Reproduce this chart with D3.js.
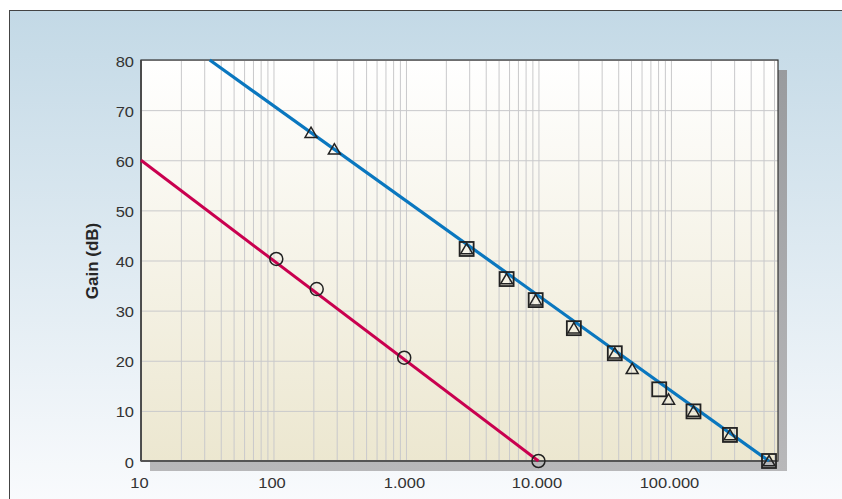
<!DOCTYPE html>
<html>
<head>
<meta charset="utf-8">
<script src="https://cdn.jsdelivr.net/npm/d3@7"></script>
<style>
  body { margin: 0; background: #fff; }
  svg { display: block; font-family: "Liberation Sans", Arial, sans-serif; }
</style>
</head>
<body>
<svg id="chart"></svg>
<script>
// values
let xTicks = [10, 100, 1000, 10000, 100000]
let yTicks = [0, 10, 20, 30, 40, 50, 60, 70, 80]

let redLineFreq = [10, 10000]
let redLineGain = [60, 0]
let circleFreq = [105, 212, 970, 10000]
let circleGain = [40.3, 34.3, 20.6, 0]

let blueLineFreq = [33, 550000]
let blueLineGain = [80, 0]
let triangleFreq = [192, 288, 2870, 5750, 9530, 18500, 37700, 51000, 96000, 148000, 279000, 550000]
let triangleGain = [65.5, 62.2, 42.3, 36.3, 32.1, 26.5, 21.5, 18.4, 12.3, 9.9, 5.2, 0]
let squareFreq = [2870, 5750, 9530, 18500, 37700, 81600, 148000, 279000, 550000]
let squareGain = [42.3, 36.3, 32.1, 26.5, 21.5, 14.3, 9.9, 5.2, 0]

let width = 842
let height = 499
let pLeft = 141, pRight = 778, pTop = 60, pBottom = 461

let svg = d3.select('#chart').attr('width', width).attr('height', height)
let defs = svg.append('defs')

let bgGrad = defs.append('linearGradient').attr('id', 'bg').attr('x1', 0).attr('y1', 0).attr('x2', 0).attr('y2', 1)
bgGrad.append('stop').attr('offset', '0%').attr('stop-color', '#c3d9e6')
bgGrad.append('stop').attr('offset', '100%').attr('stop-color', '#fafbfd')

let plotGrad = defs.append('linearGradient').attr('id', 'plotbg').attr('x1', 0).attr('y1', 0).attr('x2', 0).attr('y2', 1)
plotGrad.append('stop').attr('offset', '0%').attr('stop-color', '#ffffff')
plotGrad.append('stop').attr('offset', '100%').attr('stop-color', '#ece7d0')

let shadowGrad = defs.append('linearGradient').attr('id', 'shadow').attr('x1', 0).attr('y1', 0).attr('x2', 0).attr('y2', 1)
shadowGrad.append('stop').attr('offset', '0%').attr('stop-color', '#999b9e')
shadowGrad.append('stop').attr('offset', '100%').attr('stop-color', '#b8b8ba')

// panel
svg.append('rect').attr('x', 0).attr('y', 0).attr('width', width).attr('height', height).attr('fill', '#fff')
svg.append('rect')
    .attr('x', 9.5).attr('y', 10.5)
    .attr('width', 840).attr('height', 500)
    .attr('fill', 'url(#bg)')
    .attr('stroke', '#444').attr('stroke-width', 1)

let xScale = d3.scaleLog().domain([10, 643000]).range([pLeft, pRight])
let yScale = d3.scaleLinear().domain([0, 80]).range([pBottom, pTop])

// shadow + plot background
svg.append('rect')
    .attr('x', pLeft + 9).attr('y', pTop + 10)
    .attr('width', pRight - pLeft).attr('height', pBottom - pTop)
    .attr('fill', 'url(#shadow)')
svg.append('rect')
    .attr('x', pLeft).attr('y', pTop)
    .attr('width', pRight - pLeft).attr('height', pBottom - pTop)
    .attr('fill', 'url(#plotbg)')

// grid
let xGrid = d3.axisBottom(xScale).tickSize(-(pBottom - pTop)).tickFormat('')
svg.append('g')
    .attr('transform', 'translate(0,' + pBottom + ')')
    .call(xGrid)
    .call(g => g.select('.domain').remove())
    .selectAll('line').attr('stroke', '#c9c9cb').attr('stroke-width', 1)

let yGrid = d3.axisLeft(yScale).tickValues(yTicks).tickSize(-(pRight - pLeft)).tickFormat('')
svg.append('g')
    .attr('transform', 'translate(' + pLeft + ',0)')
    .call(yGrid)
    .call(g => g.select('.domain').remove())
    .selectAll('line').attr('stroke', '#c9c9cb').attr('stroke-width', 1)

// frame
svg.append('rect')
    .attr('x', pLeft).attr('y', pTop)
    .attr('width', pRight - pLeft).attr('height', pBottom - pTop)
    .attr('fill', 'none').attr('stroke', '#333').attr('stroke-width', 1.2)
svg.append('line').attr('x1', pLeft).attr('x2', pLeft).attr('y1', pTop).attr('y2', pBottom)
    .attr('stroke', '#444').attr('stroke-width', 1.6)
svg.append('line').attr('x1', pLeft).attr('x2', pRight).attr('y1', pBottom).attr('y2', pBottom)
    .attr('stroke', '#555').attr('stroke-width', 2)

// axis labels
let locale = d3.formatLocale({ decimal: ',', thousands: '.', grouping: [3], currency: ['', ''] })
let fmt = locale.format(',')

let xAxis = d3.axisBottom(xScale).tickValues(xTicks).tickFormat(fmt).tickSize(0)
svg.append('g')
    .attr('transform', 'translate(-2,' + pBottom + ')')
    .call(xAxis)
    .call(g => g.select('.domain').remove())
    .selectAll('text')
    .attr('y', 16).attr('dy', '0.71em')
    .attr('font-size', 15).attr('fill', '#333')
    .attr('font-family', '"Liberation Sans", Arial, sans-serif')
    .attr('transform', 'scale(1.1,1)')
    .attr('x', 0)

let yAxis = d3.axisLeft(yScale).tickValues(yTicks).tickSize(0)
svg.append('g')
    .attr('transform', 'translate(' + pLeft + ',0)')
    .call(yAxis)
    .call(g => g.select('.domain').remove())
    .selectAll('text')
    .attr('x', -7 / 1.1).attr('dy', '0.4em')
    .attr('font-size', 15).attr('fill', '#333')
    .attr('font-family', '"Liberation Sans", Arial, sans-serif')
    .attr('transform', 'scale(1.1,1)')

svg.append('text')
    .attr('transform', 'translate(98,261) rotate(-90)')
    .attr('text-anchor', 'middle')
    .attr('font-size', 17).attr('font-weight', 'bold').attr('fill', '#262626')
    .text('Gain (dB)')

// lines
let line = d3.line().x(d => xScale(d[0])).y(d => yScale(d[1]))

svg.append('path')
    .datum(redLineFreq.map((f, i) => [f, redLineGain[i]]))
    .attr('d', line)
    .attr('fill', 'none').attr('stroke', '#c9004f').attr('stroke-width', 3)
svg.append('path')
    .datum(blueLineFreq.map((f, i) => [f, blueLineGain[i]]))
    .attr('d', line)
    .attr('fill', 'none').attr('stroke', '#0a77bf').attr('stroke-width', 3.2)

// markers
svg.append('g').selectAll('circle')
    .data(circleFreq.map((f, i) => [f, circleGain[i]]))
    .enter()
    .append('circle')
    .attr('cx', d => xScale(d[0]))
    .attr('cy', d => yScale(d[1]))
    .attr('r', 6.5)
    .attr('fill', 'none').attr('stroke', '#222').attr('stroke-width', 1.5)

svg.append('g').selectAll('rect')
    .data(squareFreq.map((f, i) => [f, squareGain[i]]))
    .enter()
    .append('rect')
    .attr('x', d => xScale(d[0]) - 7)
    .attr('y', d => yScale(d[1]) - 7)
    .attr('width', 14).attr('height', 14)
    .attr('fill', 'none').attr('stroke', '#222').attr('stroke-width', 1.8)

svg.append('g').selectAll('path')
    .data(triangleFreq.map((f, i) => [f, triangleGain[i]]))
    .enter()
    .append('path')
    .attr('d', 'M0,-5.5L6,4.8L-6,4.8Z')
    .attr('transform', d => 'translate(' + xScale(d[0]) + ',' + yScale(d[1]) + ')')
    .attr('fill', 'none').attr('stroke', '#222').attr('stroke-width', 1.5)
</script>
</body>
</html>
